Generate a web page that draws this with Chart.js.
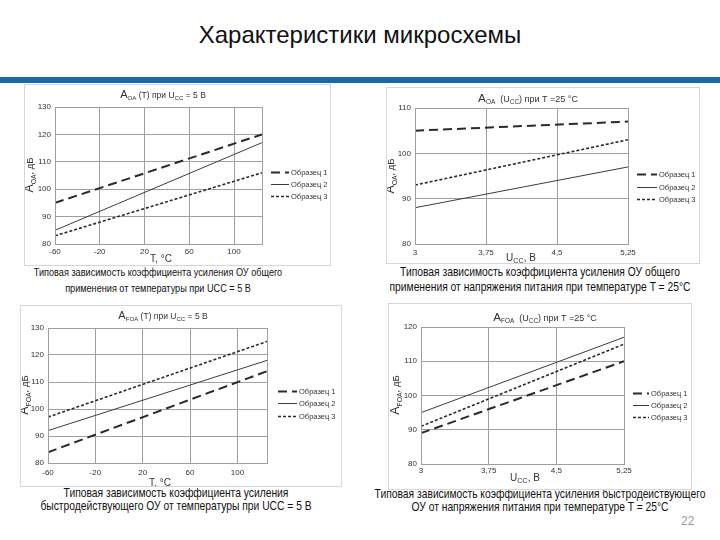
<!DOCTYPE html>
<html lang="ru">
<head>
<meta charset="utf-8">
<title>Характеристики микросхемы</title>
<script src="https://cdn.jsdelivr.net/npm/chart.js@4.4.0/dist/chart.umd.min.js"></script>
<style>
    html, body { margin: 0; padding: 0; background: #fff; }
    body { width: 720px; height: 540px; position: relative; overflow: hidden; font-family: 'Liberation Sans', Arial, sans-serif; }
    .slide-title { position: absolute; left: 0; top: 21px; width: 720px; text-align: center; font-size: 24px; color: #111; }
    .blue-bar { position: absolute; left: 0; top: 77px; width: 720px; height: 6px; background: #1769ab; }
    .panel { position: absolute; border: 1px solid #d6d6d6; overflow: hidden; background: #fff; }
    .panel canvas { position: absolute; left: -1px; top: -1px; }
    .caption { position: absolute; white-space: nowrap; text-align: center; color: #111;
               transform: translateX(-50%) scaleX(0.83); }
    .page-num { position: absolute; left: 681px; top: 514px; font-size: 12px; color: #9a9a9a; }
</style>
</head>
<body>
<div class="slide-title">Характеристики микросхемы</div>
<div class="blue-bar"></div>

<div class="caption" style="left: 158px; top: 264px; font-size: 11px; line-height: 16px;">Типовая зависимость коэффициента усиления ОУ общего<br>применения от температуры при UCC = 5 В</div>
<div class="caption" style="left: 540px; top: 265px; font-size: 12.4px; line-height: 15px;">Типовая зависимость коэффициента усиления ОУ общего<br>применения от напряжения питания при температуре T = 25°C</div>
<div class="caption" style="left: 176px; top: 487px; font-size: 12.4px; line-height: 13px;">Типовая зависимость коэффициента усиления<br>быстродействующего ОУ от температуры при UCC = 5 В</div>
<div class="caption" style="left: 540px; top: 488px; font-size: 12.4px; line-height: 13px;">Типовая зависимость коэффициента усиления быстродействующего<br>ОУ от напряжения питания при температуре T = 25°C</div>
<div class="page-num">22</div>

<script>
// ==================== DATA ====================

const seriesNames = ['Образец 1', 'Образец 2', 'Образец 3'];

// x axes
const tempRange = [-60, 125];
const tempTicks = [-60, -20, 20, 60, 100];
const voltRange = [3, 5.25];
const voltTicks = [3, 3.75, 4.5, 5.25];
const voltTickLabels = ['3', '3,75', '4,5', '5,25'];

// y axes (дБ)
const gainTicksTo130 = [80, 90, 100, 110, 120, 130];
const gainTicksTo110 = [80, 90, 100, 110];
const gainTicksTo120 = [80, 90, 100, 110, 120];

// A_OA(T) при Ucc = 5 В  (values at the ends of tempRange)
const aoaTempS1 = [95, 120];
const aoaTempS2 = [85, 117];
const aoaTempS3 = [83, 106];

// A_OA(Ucc) при T = 25 °C  (values at the ends of voltRange)
const aoaVoltS1 = [105, 107];
const aoaVoltS2 = [88, 97];
const aoaVoltS3 = [93, 103];

// A_FOA(T) при Ucc = 5 В
const afoaTempS1 = [84, 114];
const afoaTempS2 = [92, 118];
const afoaTempS3 = [97, 125];

// A_FOA(Ucc) при T = 25 °C
const afoaVoltS1 = [89, 110];
const afoaVoltS2 = [95, 117];
const afoaVoltS3 = [91, 115];

// ==================== STYLES ====================

const fontFamily = "'Liberation Sans', Arial, sans-serif";
const gridColor = '#9f9f9f';
const textColor = '#333';
const seriesStyles = [
    { color: '#2a2a2a', width: 2, dash: [9, 5] },   // Образец 1 - long dash
    { color: '#3c3c3c', width: 1, dash: [] },       // Образец 2 - solid
    { color: '#2a2a2a', width: 1.6, dash: [3, 2] }  // Образец 3 - short dash
];

// ==================== HELPERS ====================

// '^{A}_{OA} (T)' -> [['A','big'], ['OA','sub'], [' (T)','']]
function parseRich(str) {
    const parts = [];
    const re = /([_^])\{([^}]*)\}/g;
    let last = 0, m;
    while ((m = re.exec(str)) !== null) {
        if (m.index > last) parts.push([str.slice(last, m.index), '']);
        parts.push([m[2], m[1] === '_' ? 'sub' : 'big']);
        last = re.lastIndex;
    }
    if (last < str.length) parts.push([str.slice(last), '']);
    return parts;
}

function drawRichText(ctx, str, x, y, size, rotate) {
    const parts = parseRich(str);
    const sizeOf = kind => kind === 'sub' ? size * 0.72 : kind === 'big' ? size * 1.3 : size;
    const widths = parts.map(([text, kind]) => {
        ctx.font = `${sizeOf(kind)}px ${fontFamily}`;
        return ctx.measureText(text).width;
    });
    const total = widths.reduce((s, w) => s + w, 0);

    ctx.save();
    ctx.translate(x, y);
    if (rotate) ctx.rotate(-Math.PI / 2);
    ctx.fillStyle = textColor;
    ctx.textBaseline = 'alphabetic';
    ctx.textAlign = 'left';
    let cx = -total / 2;
    parts.forEach(([text, kind], i) => {
        ctx.font = `${sizeOf(kind)}px ${fontFamily}`;
        ctx.fillText(text, cx, kind === 'sub' ? size * 0.6 : size * 0.35);
        cx += widths[i];
    });
    ctx.restore();
}

// frame, titles and legend drawn on top of the chart
function makeDecorPlugin(cfg) {
    return {
        id: 'decor',
        afterDraw(chart) {
            const { ctx, chartArea: a } = chart;
            ctx.save();

            // plot frame
            ctx.strokeStyle = gridColor;
            ctx.lineWidth = 1;
            ctx.strokeRect(a.left + 0.5, a.top + 0.5, a.right - a.left, a.bottom - a.top);

            // titles
            drawRichText(ctx, cfg.title, cfg.titlePos[0], cfg.titlePos[1], cfg.titleSize, false);
            drawRichText(ctx, cfg.yTitle, cfg.yTitlePos[0], cfg.yTitlePos[1], 9.5, true);
            drawRichText(ctx, cfg.xTitle, cfg.xTitlePos[0], cfg.xTitlePos[1], 10, false);

            // legend
            const lg = cfg.legend;
            seriesStyles.forEach((st, i) => {
                const y = lg.rows[i] + 0.5;
                ctx.strokeStyle = st.color;
                ctx.lineWidth = st.width;
                ctx.setLineDash(st.dash);
                ctx.beginPath();
                ctx.moveTo(lg.x, y);
                ctx.lineTo(lg.x + lg.len, y);
                ctx.stroke();
                ctx.setLineDash([]);
                ctx.fillStyle = textColor;
                ctx.font = `7.5px ${fontFamily}`;
                ctx.textBaseline = 'middle';
                ctx.fillText(seriesNames[i], lg.x + lg.len + 2, y);
            });

            ctx.restore();
        }
    };
}

// ==================== CHART ====================

function renderGainChart(cfg) {
    const [left, top, width, height] = cfg.box;
    const panel = document.createElement('div');
    panel.className = 'panel';
    Object.assign(panel.style, {
        left: left + 'px', top: top + 'px',
        width: width + 'px', height: height + 'px'
    });
    document.body.appendChild(panel);

    const canvas = document.createElement('canvas');
    canvas.width = width + 2;
    canvas.height = height + 2;
    panel.appendChild(canvas);

    const area = cfg.area;
    const xAxisHeight = 14;

    const datasets = cfg.series.map((values, i) => ({
        label: seriesNames[i],
        data: cfg.xRange.map((x, j) => ({ x: x, y: values[j] })),
        borderColor: seriesStyles[i].color,
        borderWidth: seriesStyles[i].width,
        borderDash: seriesStyles[i].dash,
        pointRadius: 0,
        tension: 0,
        fill: false
    }));

    const tickFont = { family: fontFamily, size: 8 };

    new Chart(canvas, {
        type: 'line',
        data: { datasets: datasets },
        options: {
            responsive: false,
            animation: false,
            devicePixelRatio: 1,
            layout: {
                padding: {
                    left: 0,
                    top: area.top,
                    right: canvas.width - area.right,
                    bottom: canvas.height - area.bottom - xAxisHeight
                }
            },
            scales: {
                x: {
                    type: 'linear',
                    min: cfg.xRange[0],
                    max: cfg.xRange[1],
                    afterBuildTicks: axis => { axis.ticks = cfg.xTicks.map(v => ({ value: v })); },
                    afterFit: axis => { axis.height = xAxisHeight; },
                    grid: { color: gridColor, lineWidth: 1, drawTicks: false },
                    border: { display: false },
                    ticks: {
                        font: tickFont,
                        color: textColor,
                        padding: cfg.xTickPad,
                        maxRotation: 0,
                        autoSkip: false,
                        callback: (value, index) => cfg.xLabels ? cfg.xLabels[index] : value
                    }
                },
                y: {
                    min: cfg.yTicks[0],
                    max: cfg.yTicks[cfg.yTicks.length - 1],
                    afterBuildTicks: axis => { axis.ticks = cfg.yTicks.map(v => ({ value: v })); },
                    afterFit: axis => { axis.width = area.left; },
                    grid: { color: gridColor, lineWidth: 1, drawTicks: false },
                    border: { display: false },
                    ticks: { font: tickFont, color: textColor, padding: 4, autoSkip: false }
                }
            },
            plugins: {
                legend: { display: false },
                tooltip: { enabled: false },
                title: { display: false }
            }
        },
        plugins: [makeDecorPlugin(cfg)]
    });
}

// top left: A_OA(T)
renderGainChart({
    box: [24, 84, 305, 180],
    area: { left: 31, top: 23, right: 238, bottom: 160 },
    xRange: tempRange, xTicks: tempTicks, xLabels: null, xTickPad: 3,
    yTicks: gainTicksTo130,
    series: [aoaTempS1, aoaTempS2, aoaTempS3],
    title: '^{A}_{OA} (T) при U_{CC} = 5 В', titlePos: [139, 11], titleSize: 8.5,
    yTitle: '^{A}_{OA}, дБ', yTitlePos: [6, 91],
    xTitle: 'T, °C', xTitlePos: [137, 174],
    legend: { x: 247, len: 18, rows: [88, 100, 112] }
});

// top right: A_OA(Ucc)
renderGainChart({
    box: [386, 87, 312, 175],
    area: { left: 29, top: 21, right: 242, bottom: 157 },
    xRange: voltRange, xTicks: voltTicks, xLabels: voltTickLabels, xTickPad: 4,
    yTicks: gainTicksTo110,
    series: [aoaVoltS1, aoaVoltS2, aoaVoltS3],
    title: '^{A}_{OA}  (U_{CC}) при T =25 °C', titlePos: [142, 12], titleSize: 9,
    yTitle: '^{A}_{OA}, дБ', yTitlePos: [5, 89],
    xTitle: 'U_{CC}, В', xTitlePos: [135, 170],
    legend: { x: 251, len: 20, rows: [87, 100, 112] }
});

// bottom left: A_FOA(T)
renderGainChart({
    box: [20, 305, 320, 180],
    area: { left: 28, top: 23, right: 247, bottom: 158 },
    xRange: tempRange, xTicks: tempTicks, xLabels: null, xTickPad: 5,
    yTicks: gainTicksTo130,
    series: [afoaTempS1, afoaTempS2, afoaTempS3],
    title: '^{A}_{FOA} (T) при U_{CC} = 5 В', titlePos: [143, 11], titleSize: 8.5,
    yTitle: '^{A}_{FOA}, дБ', yTitlePos: [5, 90],
    xTitle: 'T, °C', xTitlePos: [140, 177],
    legend: { x: 258, len: 19, rows: [86, 98, 111] }
});

// bottom right: A_FOA(Ucc)
renderGainChart({
    box: [388, 303, 302, 185],
    area: { left: 33, top: 24, right: 236, bottom: 161 },
    xRange: voltRange, xTicks: voltTicks, xLabels: voltTickLabels, xTickPad: 2,
    yTicks: gainTicksTo120,
    series: [afoaVoltS1, afoaVoltS2, afoaVoltS3],
    title: '^{A}_{FOA}  (U_{CC}) при T =25 °C', titlePos: [157, 15], titleSize: 9,
    yTitle: '^{A}_{FOA}, дБ', yTitlePos: [8, 92],
    xTitle: 'U_{CC}, В', xTitlePos: [137, 174],
    legend: { x: 245, len: 16, rows: [90, 102, 114] }
});
</script>
</body>
</html>
